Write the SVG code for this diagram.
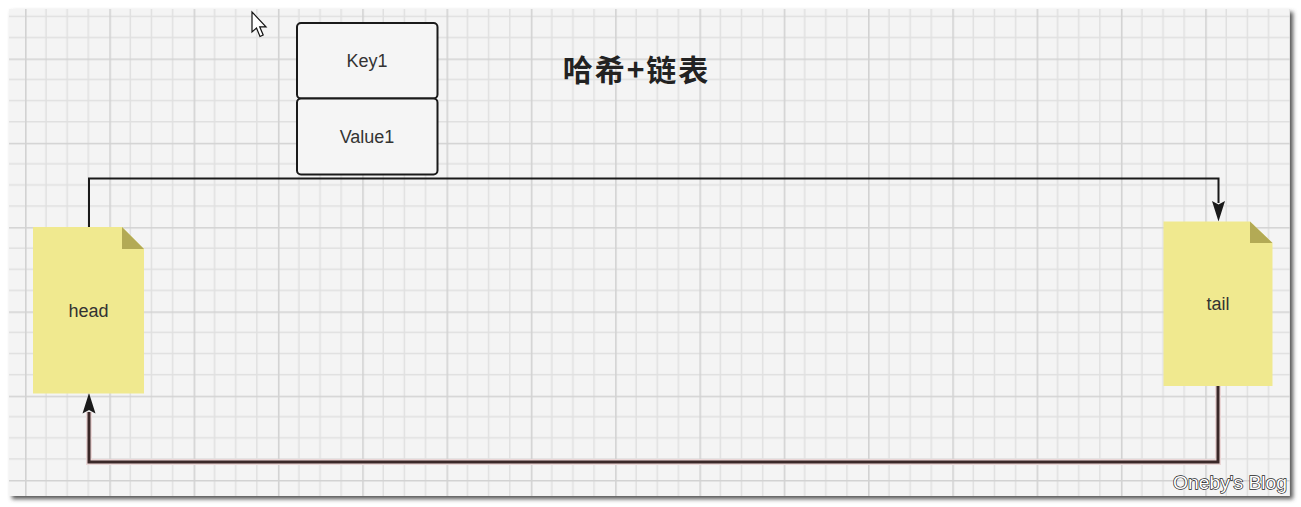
<svg xmlns="http://www.w3.org/2000/svg" width="1301" height="507" viewBox="0 0 1301 507">
  <style>
    .box { fill: #f5f5f5; stroke: #1a1a1a; stroke-width: 2; }
    .lbl { font-family: "Liberation Sans", "Noto Sans", Arial, sans-serif; font-size: 18px; fill: #333333; text-anchor: middle; dominant-baseline: central; }
    .note { fill: #f0e98f; }
    .fold { fill: #b3aa55; }
    .conn { fill: none; stroke: #1a1a1a; stroke-width: 2; }
    .conn2 { fill: none; stroke: #3a2828; stroke-width: 3; }
    .halo { fill: none; stroke: #ead6d6; stroke-width: 6; }
  </style>
  <defs>
    <pattern id="grid" patternUnits="userSpaceOnUse" x="25" y="58.5" width="84.3" height="84.3">
      <rect width="84.3" height="84.3" fill="#f4f4f4"/>
      <g stroke="#e0e0e0" stroke-width="1.4">
        <line x1="21.08" y1="0" x2="21.08" y2="84.3"/>
        <line x1="42.15" y1="0" x2="42.15" y2="84.3"/>
        <line x1="63.23" y1="0" x2="63.23" y2="84.3"/>
        <line x1="0" y1="21.08" x2="84.3" y2="21.08"/>
        <line x1="0" y1="42.15" x2="84.3" y2="42.15"/>
        <line x1="0" y1="63.23" x2="84.3" y2="63.23"/>
      </g>
      <g stroke="#d2d2d2" stroke-width="1.6">
        <line x1="0.8" y1="0" x2="0.8" y2="84.3"/>
        <line x1="0" y1="0.8" x2="84.3" y2="0.8"/>
      </g>
    </pattern>
    <filter id="shadow" x="-5%" y="-5%" width="110%" height="115%">
      <feGaussianBlur stdDeviation="2"/>
    </filter>
  </defs>

  <rect width="1301" height="507" fill="#ffffff"/>
  <rect x="12" y="12" width="1281" height="487" fill="#555555" filter="url(#shadow)"/>
  <rect x="9" y="9" width="1281" height="487" fill="url(#grid)"/>

  <!-- mouse cursor -->
  <path d="M252,12 L252,32 L256.5,28 L260,36.5 L263.2,35 L259.7,26.8 L266,26.8 Z" fill="#ffffff" stroke="#111111" stroke-width="1.2" stroke-linejoin="miter"/>

  <g id="connectors">
    <path class="conn" d="M89,227 L89,178.5 L1218.5,178.5 L1218.5,203"/>
    <path d="M1212,201 L1218.5,204.5 L1225,201 L1218.5,221.5 Z" fill="#1a1a1a"/>
    <path class="halo" d="M1218,386 L1218,462 L89,462 L89,412"/>
    <path class="conn2" d="M1218,386 L1218,462 L89,462 L89,412"/>
    <path d="M82.5,413.5 L89,410 L95.5,413.5 L89,393 Z" fill="#1a1a1a"/>
  </g>

  <g id="key1">
    <rect class="box" x="297" y="23" width="140.5" height="75.5" rx="4"/>
    <text class="lbl" x="367" y="61">Key1</text>
  </g>
  <g id="value1">
    <rect class="box" x="297" y="98.5" width="140.5" height="76" rx="4"/>
    <text class="lbl" x="367" y="137">Value1</text>
  </g>

  <g id="title">
    <text x="636.5" y="67.5" font-family="'Noto Sans CJK SC', 'Noto Sans', sans-serif" font-size="30" font-weight="bold" fill="#222222" text-anchor="middle" dominant-baseline="central" letter-spacing="2">哈希+链表</text>
  </g>

  <g id="head">
    <path class="note" d="M33,227 L122,227 L144,249 L144,393.5 L33,393.5 Z"/>
    <path class="fold" d="M122,227 L144,249 L122,249 Z"/>
    <text class="lbl" x="88.5" y="311">head</text>
  </g>

  <g id="tail">
    <path class="note" d="M1163.5,221.5 L1250,221.5 L1272.5,243 L1272.5,386 L1163.5,386 Z"/>
    <path class="fold" d="M1250,221.5 L1272.5,243 L1250,243 Z"/>
    <text class="lbl" x="1218" y="304">tail</text>
  </g>

  <g id="watermark">
    <text x="1173" y="489" font-family="'Liberation Sans', 'DejaVu Sans', sans-serif" font-size="18" fill="#ffffff" stroke="#222222" stroke-width="1.3" paint-order="stroke" textLength="114" lengthAdjust="spacingAndGlyphs">Oneby's Blog</text>
  </g>
</svg>
